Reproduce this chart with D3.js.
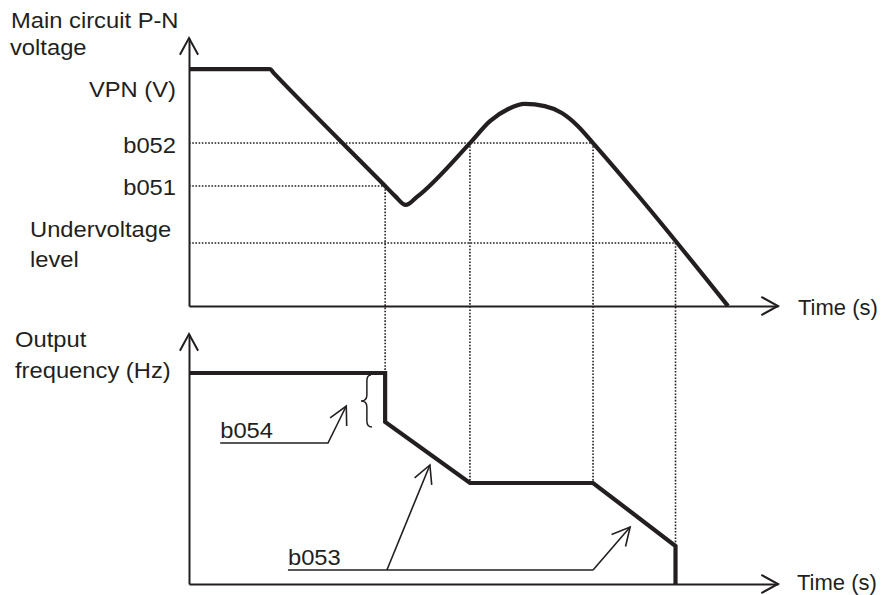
<!DOCTYPE html>
<html>
<head>
<meta charset="utf-8">
<script src="https://cdn.jsdelivr.net/npm/d3@7"></script>
<style>
  html, body { margin: 0; padding: 0; background: #fff; }
  text { font-family: "Liberation Sans", Arial, Helvetica, sans-serif; fill: #231f20; }
</style>
</head>
<body>
<svg id="chart" width="882" height="595"></svg>
<script>
// ---- data (abstract units: time 0-100, voltage 0-100, frequency 0-100) ----
const voltageTime  = [0, 13.75, 14.4, 33.3, 35.0, 36.8, 38.7, 47.7, 51.1, 54.2, 57.0, 60.4, 63.3, 66.0, 68.6, 76.6, 91.5];
const voltageValue = [88.4, 88.4, 86.9, 44.8, 41.0, 37.7, 40.7, 60.8, 69.0, 73.5, 75.4, 74.6, 72.0, 67.2, 60.8, 40.3, 0];

const freqTime  = [0, 33.3, 33.3, 47.7, 68.6, 82.6, 82.6];
const freqValue = [84.4, 84.4, 64.8, 40.4, 40.4, 15.2, 0];

// threshold levels on the voltage chart
const levelNames  = ["b052", "b051", "Undervoltage"];
const levelValues = [60.8, 44.8, 23.5];
const levelEndT   = [68.6, 33.3, 82.6];

// vertical guide lines: time, top voltage value, bottom frequency value
const guideTime = [33.3, 47.7, 68.6, 82.6];
const guideV    = [44.8, 60.8, 60.8, 23.5];
const guideF    = [84.4, 40.4, 40.4, 15.2];

// annotations (frequency chart units)
const b054Label = { t: 5.3, f: 58.4, text: "b054" };
const b054Line  = [[5.3, 56.4], [23.6, 56.4], [26.7, 71.2]];
const b053Label = { t: 16.8, f: 7.6, text: "b053" };
const b053Line  = [[16.8, 5.6], [68.6, 5.6]];
const b053Arrows = [[[33.6, 5.6], [40.9, 47.6]], [[68.6, 5.6], [74.9, 22.8]]];
const braceT = [30.9, 30.2, 29.2];     // end, body, cusp
const braceF = [83.6, 73.2, 62.8];     // top, middle, bottom

// ---- layout ----
const ink = "#231f20";
const svg = d3.select("#chart");
const x  = d3.scaleLinear().domain([0, 100]).range([189, 778]);
const yV = d3.scaleLinear().domain([0, 100]).range([306, 38]);
const yF = d3.scaleLinear().domain([0, 100]).range([584, 334]);

function label(px, py, txt, anchor, size, sx) {
  svg.append("g").attr("transform", `translate(${px},${py}) scale(${sx},1)`)
    .append("text").attr("text-anchor", anchor).attr("font-size", size).text(txt);
}
function arrowHead(x0, y0, x1, y1, len, ang, width) {
  const a = Math.atan2(y0 - y1, x0 - x1);
  const p1 = [x1 + len * Math.cos(a + ang), y1 + len * Math.sin(a + ang)];
  const p2 = [x1 + len * Math.cos(a - ang), y1 + len * Math.sin(a - ang)];
  svg.append("path")
    .attr("d", `M${p1[0]},${p1[1]}L${x1},${y1}L${p2[0]},${p2[1]}`)
    .attr("fill", "none").attr("stroke", ink).attr("stroke-width", width)
    .attr("stroke-linejoin", "miter");
}

// ---- dotted guides ----
const dotted = svg.append("g").attr("stroke", ink).attr("stroke-width", 1.6)
  .attr("stroke-dasharray", "1.6,1.6").attr("fill", "none");
levelValues.forEach((v, i) => {
  dotted.append("line").attr("x1", x(0)).attr("x2", x(levelEndT[i]))
    .attr("y1", yV(v)).attr("y2", yV(v));
});
guideTime.forEach((t, i) => {
  dotted.append("line").attr("x1", x(t)).attr("x2", x(t))
    .attr("y1", yV(guideV[i])).attr("y2", yF(guideF[i]));
});

// ---- axes (domain lines only, with open arrowheads) ----
function drawAxes(yScale) {
  const yAxis = d3.axisLeft(yScale).tickValues([]).tickSizeOuter(0);
  const xAxis = d3.axisBottom(x).tickValues([]).tickSizeOuter(0);
  const gy = svg.append("g").attr("transform", `translate(${x(0)},0)`).call(yAxis);
  const gx = svg.append("g").attr("transform", `translate(0,${yScale(0)})`).call(xAxis);
  [gy, gx].forEach(g => g.select(".domain").attr("stroke", ink).attr("stroke-width", 2));
  const top = yScale.range()[1];
  arrowHead(x(0), yScale(0), x(0), top, 19, 0.5, 2);
  arrowHead(x(0), yScale(0), x(100), yScale(0), 19, 0.5, 2);
}
drawAxes(yV);
drawAxes(yF);

// ---- data lines ----
const vPts = voltageTime.map((t, i) => [t, voltageValue[i]]);
svg.append("path").datum(vPts)
  .attr("d", d3.line().x(d => x(d[0])).y(d => yV(d[1])).curve(d3.curveMonotoneX))
  .attr("fill", "none").attr("stroke", ink).attr("stroke-width", 4.2)
  .attr("stroke-linejoin", "round");

const fPts = freqTime.map((t, i) => [t, freqValue[i]]);
svg.append("path").datum(fPts)
  .attr("d", d3.line().x(d => x(d[0])).y(d => yF(d[1])))
  .attr("fill", "none").attr("stroke", ink).attr("stroke-width", 4.2)
  .attr("stroke-linejoin", "miter");

// ---- annotations ----
const annLine = d3.line().x(d => x(d[0])).y(d => yF(d[1]));
svg.append("path").datum(b054Line).attr("d", annLine)
  .attr("fill", "none").attr("stroke", ink).attr("stroke-width", 1.6);
{
  const n = b054Line.length;
  arrowHead(x(b054Line[n-2][0]), yF(b054Line[n-2][1]), x(b054Line[n-1][0]), yF(b054Line[n-1][1]), 20, 0.48, 1.6);
}
svg.append("path").datum(b053Line).attr("d", annLine)
  .attr("fill", "none").attr("stroke", ink).attr("stroke-width", 1.6);
b053Arrows.forEach(seg => {
  svg.append("path").datum(seg).attr("d", annLine)
    .attr("fill", "none").attr("stroke", ink).attr("stroke-width", 1.6);
  arrowHead(x(seg[0][0]), yF(seg[0][1]), x(seg[1][0]), yF(seg[1][1]), 20, 0.48, 1.6);
});
// brace
{
  const xe = x(braceT[0]), xb = x(braceT[1]), xc = x(braceT[2]);
  const yt = yF(braceF[0]), ym = yF(braceF[1]), yb = yF(braceF[2]);
  const d = `M${xe},${yt} Q${xb},${yt} ${xb},${yt + 6} L${xb},${ym - 6} Q${xb},${ym} ${xc},${ym}` +
            ` Q${xb},${ym} ${xb},${ym + 6} L${xb},${yb - 6} Q${xb},${yb} ${xe + 1},${yb}`;
  svg.append("path").attr("d", d).attr("fill", "none").attr("stroke", ink).attr("stroke-width", 1.5);
}

// ---- text ----
const FS = 22, SX = 1.08;
label(11, 28, "Main circuit P-N", "start", FS, SX);
label(10, 55, "voltage", "start", FS, SX);
label(x(0) - 13, 97, "VPN (V)", "end", FS, SX);
label(x(0) - 13, yV(levelValues[0]) + 10, levelNames[0], "end", FS, SX);
label(x(0) - 13, yV(levelValues[1]) + 9, levelNames[1], "end", FS, SX);
label(30, yV(levelValues[2]) - 6, levelNames[2], "start", FS, SX);
label(30, yV(levelValues[2]) + 24, "level", "start", FS, SX);
label(15, 347, "Output", "start", FS, SX);
label(15, 378, "frequency (Hz)", "start", FS, SX);
label(x(100) + 20, yV(0) + 9, "Time (s)", "start", FS, 1.0);
label(x(100) + 19, yF(0) + 6, "Time (s)", "start", FS, 1.0);
label(x(b054Label.t), yF(b054Label.f), b054Label.text, "start", FS, SX);
label(x(b053Label.t), yF(b053Label.f), b053Label.text, "start", FS, SX);
</script>
</body>
</html>
